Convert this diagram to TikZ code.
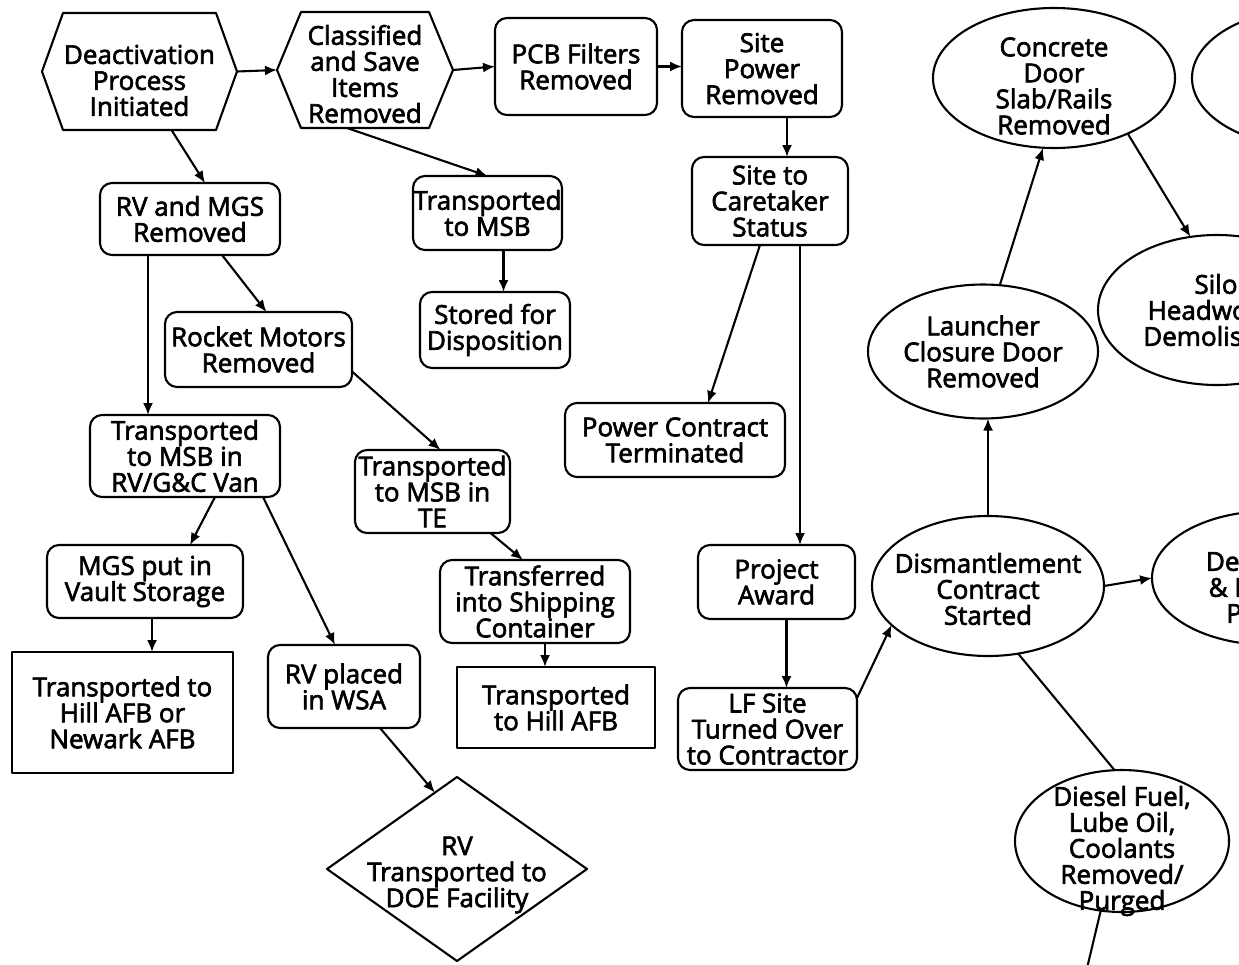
\documentclass[tikz,border=0pt]{standalone}
\usepackage{fontspec}
\setmainfont{Open Sans}[FakeBold=2.5]
\usetikzlibrary{shapes.geometric,arrows.meta,calc}
\begin{document}
\begin{tikzpicture}[x=1pt,y=-1pt,
  txt/.style={font=\fontsize{26}{26}\selectfont, align=center},
  every node/.style={txt, inner sep=0pt, outer sep=0pt},
  ink/.style={line width=2.1pt, line join=round},
  stepbox/.style={ink, draw, rectangle, rounded corners=12pt},
  plainbox/.style={ink, draw, rectangle},
  frame/.style={rectangle},
  oval/.style={ink, draw, ellipse},
  arr/.style={ink, -{Latex[length=12pt,width=10pt]}},
]
\path[use as bounding box] (0,0) rectangle (1239,964);
\clip (0,0) rectangle (1239,964);

% ---- deactivation branch (hexagons) ----
\node[frame, minimum width=195pt, minimum height=117pt,
  label={[txt, yshift=-9pt]center:{Deactivation\\Process\\Initiated}}] (deact) at (139.5,71.5) {};
\draw[ink] (deact.west) -- ([xshift=21pt]deact.north west) -- ([xshift=-21pt]deact.north east)
  -- (deact.east) -- ([xshift=-21pt]deact.south east) -- ([xshift=21pt]deact.south west) -- cycle;

\node[frame, minimum width=176pt, minimum height=116pt,
  label={[txt, yshift=-4pt]center:{Classified\\and Save\\Items\\Removed}}] (class) at (365,70) {};
\draw[ink] (class.west) -- ([xshift=24pt]class.north west) -- ([xshift=-24pt]class.north east)
  -- (class.east) -- ([xshift=-24pt]class.south east) -- ([xshift=24pt]class.south west) -- cycle;

% ---- rounded process boxes ----
\node[stepbox, minimum width=162pt, minimum height=97pt] (pcb) at (576,66.5) {PCB Filters\\Removed};
\node[stepbox, minimum width=160pt, minimum height=97pt, text depth=-8pt] (power) at (762,68.5) {Site\\Power\\Removed};
\node[stepbox, minimum width=156pt, minimum height=88pt] (care) at (770,201) {Site to\\Caretaker\\Status};
\node[stepbox, minimum width=149pt, minimum height=74pt] (msb) at (487.5,213) {Transported\\to MSB};
\node[stepbox, minimum width=150pt, minimum height=76pt] (stored) at (495,330) {Stored for\\Disposition};
\node[stepbox, minimum width=180pt, minimum height=72pt] (rvmgs) at (190,219) {RV and MGS\\Removed};
\node[stepbox, minimum width=187pt, minimum height=75pt] (rocket) at (258.5,349.5) {Rocket Motors\\Removed};
\node[stepbox, minimum width=190pt, minimum height=82pt] (van) at (185,456) {Transported\\to MSB in\\RV/G\&C Van};
\node[stepbox, minimum width=155pt, minimum height=83pt] (te) at (432.5,491.5) {Transported\\to MSB in\\TE};
\node[stepbox, minimum width=196pt, minimum height=73pt] (vault) at (145,581.5) {MGS put in\\Vault Storage};
\node[plainbox, minimum width=221pt, minimum height=121pt] (hillnw) at (122.5,712.5) {Transported to\\Hill AFB or\\Newark AFB};
\node[stepbox, minimum width=152pt, minimum height=83pt] (wsa) at (344,686.5) {RV placed\\in WSA};
\node[stepbox, minimum width=190pt, minimum height=83pt] (ship) at (535,601.5) {Transferred\\into Shipping\\Container};
\node[plainbox, minimum width=198pt, minimum height=81pt] (hill) at (556,707.5) {Transported\\to Hill AFB};
\node[stepbox, minimum width=220pt, minimum height=74pt] (pct) at (675,440) {Power Contract\\Terminated};
\node[stepbox, minimum width=157pt, minimum height=74pt] (award) at (776.5,582) {Project\\Award};
\node[stepbox, minimum width=179pt, minimum height=82pt] (lf) at (767.5,729) {LF Site\\Turned Over\\to Contractor};

% ---- decision diamond ----
\node[frame, minimum width=260pt, minimum height=184pt,
  label={[txt, yshift=-6pt]center:{RV\\Transported to\\DOE Facility}}] (dia) at (457,869) {};
\draw[ink] (dia.west) -- (dia.north) -- (dia.east) -- (dia.south) -- cycle;

% ---- dismantlement ellipses ----
\node[oval, minimum width=232pt, minimum height=140pt,
  label={[txt, yshift=-3pt]center:{Dismantlement\\Contract\\Started}}] (dis) at (988,586) {};
\node[oval, minimum width=230pt, minimum height=134pt,
  label={[txt]center:{Launcher\\Closure Door\\Removed}}] (launch) at (983,351.5) {};
\node[oval, minimum width=242pt, minimum height=140pt,
  label={[txt, yshift=-8pt]center:{Concrete\\Door\\Slab/Rails\\Removed}}] (conc) at (1054,78) {};
\node[oval, minimum width=236pt, minimum height=138pt] (topr) at (1310,78) {};
\node[oval, minimum width=238pt, minimum height=150pt,
  label={[txt, xshift=-1pt]center:{Silo\\Headworks\\Demolished}}] (silo) at (1217,310) {};
\node[oval, minimum width=236pt, minimum height=134pt,
  label={[txt, yshift=-9pt, xshift=3pt]center:{Demolition\\\& Disposal\\Process}}] (demo) at (1270,578) {};
\node[oval, minimum width=214pt, minimum height=142pt,
  label={[txt, yshift=-10pt]center:{Diesel Fuel,\\Lube Oil,\\Coolants\\Removed/\\Purged}}] (fuel) at (1122,841) {};
\coordinate (offpage) at (1083,985);

% ---- connectors ----
\draw[arr] (deact.east) -- (class.west);
\draw[arr] (class.east) -- (pcb.west);
\draw[arr] (pcb.east) -- (power.west |- pcb.east);
\draw[arr] ([xshift=25pt]power.south) -- ([xshift=25pt]power.south |- care.north);
\draw[arr] ([xshift=32pt]deact.south) -- ([xshift=15pt]rvmgs.north);
\draw[arr] ([xshift=-18pt]class.south) -- ([xshift=0pt]msb.north);
\draw[arr] ([xshift=16pt]msb.south) -- ([xshift=16pt]msb.south |- stored.north);
\draw[arr] ([xshift=32pt]rvmgs.south) -- ([xshift=8pt]rocket.north);
\draw[arr] ([xshift=-42pt]rvmgs.south) -- ([xshift=-42pt]rvmgs.south |- van.north);
\draw[arr] ([yshift=-22pt]rocket.east) -- ([xshift=8pt]te.north);
\draw[arr] ([xshift=30pt]van.south) -- ([xshift=45pt]vault.north);
\draw[arr] ([xshift=7pt]vault.south) -- ([xshift=7pt]vault.south |- hillnw.north);
\draw[arr] ([xshift=78pt]van.south) -- ([xshift=-9pt]wsa.north);
\draw[arr] ([xshift=36pt]wsa.south) -- ($(dia.north)!0.17!(dia.west)$);
\draw[arr] ([xshift=58pt]te.south) -- ([xshift=-12pt]ship.north);
\draw[arr] ([xshift=10pt]ship.south) -- ([xshift=10pt]ship.south |- hill.north);
\draw[arr] ([xshift=-10pt]care.south) -- ([xshift=33pt]pct.north);
\draw[arr] ([xshift=30pt]care.south) -- ([xshift=30pt]care.south |- award.north);
\draw[arr] ([xshift=10pt]award.south) -- ([xshift=10pt]award.south |- lf.north);
\draw[arr] ([yshift=-10pt]lf.north east) -- (dis.202);
\draw[arr] (dis.north) -- (dis.north |- launch.south);
\draw[arr] ([xshift=17pt]launch.north) -- ([xshift=-11pt]conc.south);
\draw[arr] (conc.-37) -- (silo.110);
\draw[arr] (dis.east) -- (demo.west);
\draw[ink] (dis.-66) -- (fuel.96);
\draw[ink] (fuel.253) -- (offpage);
\end{tikzpicture}
\end{document}
